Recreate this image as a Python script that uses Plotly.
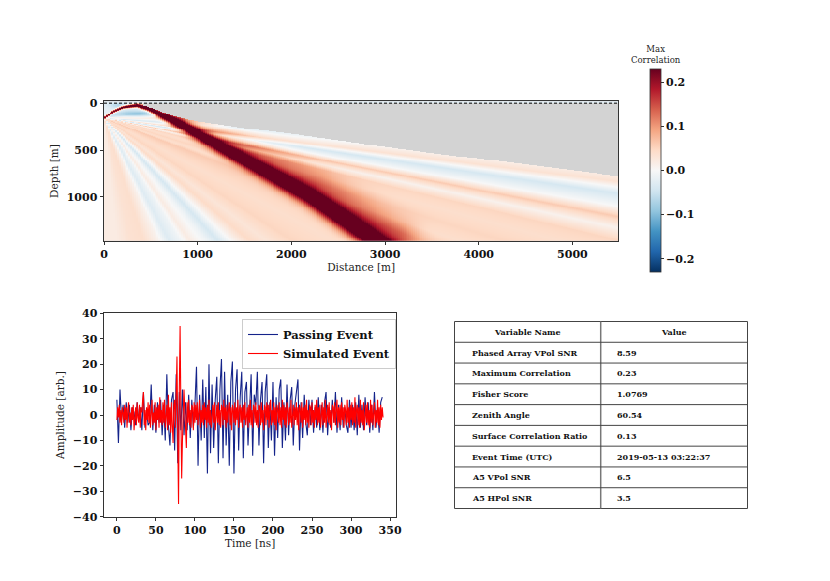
import numpy as np
import plotly.graph_objects as go

# ---------------- correlation map ----------------
# fan of rays from the receiver position (angle below horizontal, deg) and their colour value
SOURCE_X, SOURCE_DEPTH = 0, 160
ray_angle = [-60, -30, -15, -8, -3, 0, 2, 4, 5.5, 7, 8.3, 9.7, 10.8, 12, 13.3, 15, 17, 19,
             21, 24, 28, 33, 37, 40, 44, 47, 50, 55, 58, 62, 66, 72, 78, 84, 90]
ray_value = [-0.02, -0.03, -0.04, -0.03, 0.01, 0.03, 0.0, -0.035, 0.0, 0.035, -0.04, 0.0,
             0.06, 0.01, 0.05, 0.04, 0.05, 0.04, 0.06, 0.05, 0.04, 0.05, 0.03, 0.045, 0.0,
             -0.04, -0.01, 0.02, -0.01, -0.03, 0.01, 0.04, 0.035, 0.02, 0.02]

# main correlation band (arch + diagonal): centre line, widths, strengths
band_x = [0, 100, 200, 350, 470, 800, 1300, 2200, 2870, 3000]
band_depth = [160, 90, 45, 25, 55, 220, 503, 1000, 1461, 1560]
band_sigma = [8, 9, 10, 13, 18, 36, 48, 64, 70, 72]
band_peak = [0.22, 0.26, 0.28, 0.3, 0.3, 0.3, 0.3, 0.3, 0.3, 0.3]
band_shoulder = [0, 0, 0, 0, 0.02, 0.05, 0.07, 0.085, 0.09, 0.09]

# faint blue patches under the arch
patch_x = [380, 150]
patch_depth = [118, 20]
patch_sx = [150, 80]
patch_sd = [22, 25]
patch_amp = [-0.07, -0.04]

# shadow zone (no solution, drawn grey)
shadow_x = [420, 470, 600, 750, 1000, 1500, 2000, 3000, 3700, 4000, 5000, 5500]
shadow_depth = [25, 40, 85, 140, 195, 265, 325, 465, 559, 587, 712, 778]
SURFACE_DEPTH = 0

grid_x = np.arange(10, 5500, 20.0)
grid_depth = np.arange(-15, 1475, 10.0)

# ---------------- waveforms ----------------
BLUE_DT = 2.0
passing = [6, -11, 10, -2, 4, -5, 5, -3, 4, -6,
           3, 1, -4, 5, -2, 3, -6, 9, -5, 2,
           -4, -3, 12, -6, 4, -7, 5, -3, 6, -8,
           4, -10, 16, -4, -12, 6, 9, -14, 16, -19,
           9, -6, 10, -8, 5, -6, 8, -9, 6, -5,
           4, 19, -20, 8, -10, 14, -9, 11, -23, 20,
           -15, 12, -13, 6, 15, -19, 10, 22, -17, 17,
           -12, 8, -20, 13, 21, -23, 10, 18, -14, 7,
           17, -17, 9, 13, -12, 6, 16, -16, 8, 4,
           17, -12, 6, 13, -19, 9, 16, -13, 5, -10,
           13, -16, 7, -9, 10, 14, -13, 5, -10, 12,
           -8, 6, 11, -12, 4, 9, 14, -14, 5, -9,
           8, -3, -8, 6, -4, 6, -7, 3, -5, 7,
           -6, 4, -7, 5, 9, -8, 3, -5, 6, -3,
           9, -7, 4, -6, 7, -5, 3, -4, -7, 6,
           -5, 4, -6, 5, -8, 8, -5, 4, -6, 7,
           -4, 5, -7, 4, -6, 9, -5, 3, -7, 5,
           7]

RED_DT = 1.0
simulated = [-2, 3, -1, 4, -3, 2, -4, 3, 1, -3,
             4, -2, 3, -5, 2, 5, -3, 1, -4, 3,
             -2, 4, -6, 2, 3, -4, 5, -1, -3, 4,
             -5, 3, 1, 6, 9, -4, 2, -6, 3, -2,
             5, -3, 4, -5, 2, 6, -4, 1, -3, 5,
             -6, 3, -2, 4, -5, 7, -3, 2, -4, 5,
             -3, 6, -5, 2, 4, -6, 8, -4, 3, -7,
             5, -4, -11, 4, 6, -5, 8, 23, -10, -35,
             10, 35, 2, -25, -10, 4, 10, 2, -6, -13,
             5, -3, 6, -4, 2, -5, 4, 3, -6, 5,
             -3, 4, -2, 5, -4, 3, 6, -5, 2, -3,
             4, -4, 5, -2, 3, -5, 4, -3, 6, -4,
             2, -5, 3, 4, -3, 5, -6, 2, 4, -3,
             5, -4, 2, -5, 4, 3, -4, 6, -2, 3,
             -5, 4, -3, 2, 5, -4, 3, -6, 4, 2,
             -3, 5, -4, 3, -2, 6, -5, 2, 4, -3,
             3, -5, 4, -2, 5, -4, 2, 3, -5, 4,
             -3, 6, -4, 2, -5, 4, 3, -3, 5, -4,
             2, -5, 4, 3, -4, 5, -3, 2, -6, 4,
             3, -4, 5, -2, 4, -5, 3, 6, -4, 2,
             -3, 5, -4, 3, -6, 4, 2, -3, 5, -4,
             3, -5, 6, -2, 4, -4, 3, -5, 5, 2,
             -4, 3, -3, 6, -5, 2, 4, -4, 3, -2,
             5, -4, 3, -6, 4, 2, -3, 5, -5, 3,
             -2, 4, -4, 6, -3, 2, -5, 4, 3, -4,
             5, -3, 2, -5, 4, -2, 6, -4, 3, -3,
             4, -5, 2, 5, -4, 3, -3, 6, -5, 2,
             4, -3, 5, -4, 2, -6, 4, 3, -3, 5,
             -4, 2, 6, -5, 3, -3, 4, -4, 5, -2,
             3, -5, 4, 2, -4, 6, -3, 3, -5, 4,
             -2, 5, -4, 3, -3, 7, -5, 2, 4, -4,
             3, -5, 6, -3, 2, -4, 5, -6, 3, 4,
             -3, 5, -4, 2, -5, 6, -3, 4, -4, 3,
             5, -5, 2, -3, 6, -4, 3, -5, 4, -2,
             3, -1]

# ---------------- table ----------------
table_header = ["Variable Name", "Value"]
var_names = ["Phased Array VPol SNR", "Maximum Correlation", "Fisher Score", "Zenith Angle",
             "Surface Correlation Ratio", "Event Time (UTC)", "A5 VPol SNR", "A5 HPol SNR"]
var_values = ["8.59", "0.23", "1.0769", "60.54", "0.13", "2019-05-13 03:22:37", "6.5", "3.5"]

# ---------------- build correlation grid ----------------
X, D = np.meshgrid(grid_x, grid_depth)
bx = np.array(band_x, float)
bd = np.array(band_depth, float)
seg_len = np.hypot(np.diff(bx), np.diff(bd))
s_nodes = np.concatenate([[0], np.cumsum(seg_len)])
best = np.full(X.shape, np.inf)
signed = np.zeros(X.shape)
s_at = np.zeros(X.shape)
for i in range(len(bx) - 1):
    dx, dd = bx[i + 1] - bx[i], bd[i + 1] - bd[i]
    t = np.clip(((X - bx[i]) * dx + (D - bd[i]) * dd) / seg_len[i] ** 2, 0, 1)
    dist = np.hypot(X - (bx[i] + t * dx), D - (bd[i] + t * dd))
    cross = dx * (D - bd[i]) - dd * (X - bx[i])
    m = dist < best
    best[m] = dist[m]
    signed[m] = -np.sign(cross[m]) * dist[m]
    s_at[m] = s_nodes[i] + t[m] * seg_len[i]

sig = np.interp(s_at, s_nodes, band_sigma)
peak = np.interp(s_at, s_nodes, band_peak)
core = peak * np.exp(-0.5 * (signed / (sig * np.where(signed > 0, 1.1, 1.0))) ** 2)
shoulder = np.where(signed > 0,
                    np.interp(s_at, s_nodes, band_shoulder)
                    * np.exp(-0.5 * ((signed - 2.2 * sig) / (2.0 * sig)) ** 2), 0)
theta = np.degrees(np.arctan2(D - SOURCE_DEPTH, X - SOURCE_X))
fan = np.interp(theta, ray_angle, ray_value) * (1 - core / peak)
Z = fan + core + shoulder
for px_, pd_, sx_, sd_, a_ in zip(patch_x, patch_depth, patch_sx, patch_sd, patch_amp):
    Z += a_ * np.exp(-0.5 * (((X - px_) / sx_) ** 2 + ((D - pd_) / sd_) ** 2))
Z = np.where(D < SURFACE_DEPTH, -0.03 + 0.3 * core, Z)
sb = np.interp(X, shadow_x, shadow_depth)
Z[(D > SURFACE_DEPTH) & (X >= shadow_x[0]) & (D < sb)] = np.nan

rdbu_r = [[0.0, "#053061"], [0.1, "#2166ac"], [0.2, "#4393c3"], [0.3, "#92c5de"],
          [0.4, "#d1e5f0"], [0.5, "#f7f7f7"], [0.6, "#fddbc7"], [0.7, "#f4a582"],
          [0.8, "#d6604d"], [0.9, "#b2182b"], [1.0, "#67001f"]]

# page is drawn with an 8px body margin, so positions are given in screen pixels minus that
W, H, OFF = 830, 581, 8


def px(x):
    return (x - OFF) / W


def py(y):
    return 1 - (y - OFF) / H


SERIF = "DejaVu Serif"
tick_font = dict(family=SERIF, size=11, color="#111", weight="bold")
title_font = dict(family=SERIF, size=10.5, color="#222")

fig = go.Figure()
fig.add_trace(go.Heatmap(
    x=grid_x, y=grid_depth, z=Z, colorscale=rdbu_r, zmin=-0.23, zmax=0.23,
    showlegend=False, hoverongaps=False,
    colorbar=dict(x=px(650), xanchor="left", y=py(170.5), yanchor="middle",
                  len=203 / H, lenmode="fraction", thickness=11, xpad=0, ypad=0,
                  outlinewidth=0.8, outlinecolor="#333",
                  tickvals=[-0.2, -0.1, 0, 0.1, 0.2], tickformat=".1f",
                  ticks="outside", ticklen=3, tickcolor="#333", tickfont=tick_font),
))

t_blue = np.arange(len(passing)) * BLUE_DT
t_red = np.arange(len(simulated)) * RED_DT
fig.add_trace(go.Scatter(x=t_blue, y=passing, mode="lines", name="Passing Event",
                         line=dict(color="#14238a", width=1.1), xaxis="x2", yaxis="y2"))
fig.add_trace(go.Scatter(x=t_red, y=simulated, mode="lines", name="Simulated Event",
                         line=dict(color="#ff0000", width=1.1), xaxis="x2", yaxis="y2"))

axis_common = dict(showgrid=False, zeroline=False, showline=True, mirror=True,
                   linecolor="#333", linewidth=1, ticks="outside", ticklen=3.5,
                   tickcolor="#333", tickfont=tick_font, title_font=title_font,
                   automargin=False)

# table drawn as lines + text
T_LEFT, T_RIGHT, T_TOP, T_BOTTOM, T_DIV = 454.5, 747.5, 321.5, 508.5, 600.7
row_h = (T_BOTTOM - T_TOP) / (len(var_names) + 1)
shapes = [
    dict(type="rect", xref="x domain", yref="y domain", x0=0, x1=1, y0=0, y1=1,
         fillcolor="#d3d3d3", line=dict(width=0), layer="below"),
    dict(type="line", xref="x domain", yref="y", x0=0, x1=1,
         y0=SURFACE_DEPTH, y1=SURFACE_DEPTH, line=dict(color="black", width=1, dash="3px,2px")),
    dict(type="rect", xref="paper", yref="paper", x0=px(T_LEFT), x1=px(T_RIGHT),
         y0=py(T_BOTTOM), y1=py(T_TOP), line=dict(color="#444", width=1)),
    dict(type="line", xref="paper", yref="paper", x0=px(T_DIV), x1=px(T_DIV),
         y0=py(T_BOTTOM), y1=py(T_TOP), line=dict(color="#777", width=1.5)),
]
for k in range(1, len(var_names) + 1):
    yk = py(T_TOP + k * row_h)
    shapes.append(dict(type="line", xref="paper", yref="paper", x0=px(T_LEFT), x1=px(T_RIGHT),
                       y0=yk, y1=yk, line=dict(color="#444", width=1)))

cell_font = dict(family=SERIF, size=8, color="#111", weight="bold")
annotations = [dict(text="Max<br>Correlation", x=px(656), y=py(67), xref="paper", yref="paper",
                    xanchor="center", yanchor="bottom", showarrow=False,
                    font=dict(family=SERIF, size=8.5, color="#222"))]
for j, h in enumerate(table_header):
    x0, x1 = (T_LEFT, T_DIV) if j == 0 else (T_DIV, T_RIGHT)
    annotations.append(dict(text=h, x=px((x0 + x1) / 2), y=py(T_TOP + row_h / 2),
                            xref="paper", yref="paper", xanchor="center", yanchor="middle",
                            showarrow=False, font=cell_font))
for k, (n, v) in enumerate(zip(var_names, var_values)):
    yk = py(T_TOP + (k + 1.5) * row_h)
    annotations.append(dict(text=n, x=px(T_LEFT + 15), y=yk, xref="paper", yref="paper",
                            xanchor="left", yanchor="middle", showarrow=False, font=cell_font))
    annotations.append(dict(text=v, x=px(T_DIV + 14), y=yk, xref="paper", yref="paper",
                            xanchor="left", yanchor="middle", showarrow=False, font=cell_font))

fig.update_layout(
    width=W, height=H, margin=dict(l=0, r=0, t=0, b=0),
    paper_bgcolor="white", plot_bgcolor="white",
    font=dict(family=SERIF, color="#222"),
    xaxis=dict(domain=[px(104), px(618.3)], anchor="y", range=[0, 5490],
               tickvals=[0, 1000, 2000, 3000, 4000, 5000],
               title=dict(text="Distance [m]", standoff=3), **axis_common),
    yaxis=dict(domain=[py(240.7), py(101.3)], anchor="x", range=[1467, -20],
               tickvals=[0, 500, 1000], title=dict(text="Depth [m]", standoff=5),
               **axis_common),
    xaxis2=dict(domain=[px(104), px(396.3)], anchor="y2", range=[-16.5, 358],
                tickvals=list(range(0, 351, 50)),
                title=dict(text="Time [ns]", standoff=3), **axis_common),
    yaxis2=dict(domain=[py(516.7), py(313.3)], anchor="x2", range=[-40, 40],
                tickvals=list(range(-40, 41, 10)),
                title=dict(text="Amplitude [arb.]", standoff=6), **axis_common),
    legend=dict(x=px(242), y=py(319), xanchor="left", yanchor="top",
                bgcolor="white", bordercolor="#ccc", borderwidth=1, itemwidth=30,
                tracegroupgap=0,
                font=dict(family=SERIF, size=11.5, color="#111", weight="bold")),
    shapes=shapes,
    annotations=annotations,
)

fig.write_html("out.html")
